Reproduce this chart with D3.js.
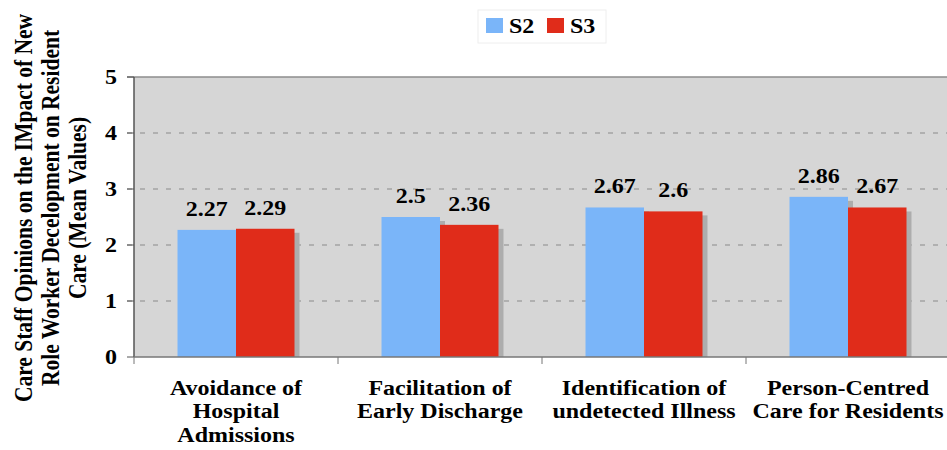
<!DOCTYPE html>
<html>
<head>
<meta charset="utf-8">
<script src="https://cdn.jsdelivr.net/npm/d3@7"></script>
<style>
  body { margin: 0; background: #fff; }
  text { font-family: "Liberation Serif", "Times New Roman", serif; font-weight: bold; fill: #000; }
</style>
</head>
<body>
<svg width="947" height="450"></svg>
<script>
var categories = [
  ["Avoidance of", "Hospital", "Admissions"],
  ["Facilitation of", "Early Discharge"],
  ["Identification of", "undetected Illness"],
  ["Person-Centred", "Care for Residents"]
];
var seriesNames = ["S2", "S3"];
var s2Values = [2.27, 2.5, 2.67, 2.86];
var s3Values = [2.29, 2.36, 2.6, 2.67];
var yTicks = [0, 1, 2, 3, 4, 5];
var titleLines = [
  "Care Staff Opinions on the IMpact of New",
  "Role Worker Decelopment on Resident",
  "Care (Mean Values)"
];

var colors = { S2: "#7ab5f9", S3: "#e02c1a" };
var stretch = 1.2; // the reference text is a little wider than tall

var svg = d3.select("svg"),
  pLeft = 134, pRight = 950, pTop = 77, pBottom = 357;

var catIdx = categories.map(function(d, i) { return i; });
var x0 = d3.scaleBand().domain(catIdx).range([pLeft, pRight]).padding(0);
var x1 = d3.scaleBand().domain(seriesNames)
  .range([(x0.bandwidth() - 117) / 2, (x0.bandwidth() + 117) / 2]);
var y = d3.scaleLinear().domain([0, 5]).range([pBottom, pTop]);

var rows = catIdx.map(function(i) {
  return [{ key: "S2", v: s2Values[i], c: i }, { key: "S3", v: s3Values[i], c: i }];
});

// plot background
svg.append("rect")
  .attr("x", pLeft).attr("y", pTop)
  .attr("width", pRight - pLeft).attr("height", pBottom - pTop)
  .attr("fill", "#d6d6d6");

svg.append("line")
  .attr("x1", pLeft - 7).attr("x2", pRight)
  .attr("y1", pTop).attr("y2", pTop)
  .attr("stroke", "#8c8c8c").attr("stroke-width", 1.5);

// dashed grid
svg.append("g").selectAll("line")
  .data(yTicks.filter(function(t) { return t > 0 && t < 5; }))
  .enter().append("line")
  .attr("x1", pLeft - 7).attr("x2", pRight)
  .attr("y1", function(d) { return y(d); }).attr("y2", function(d) { return y(d); })
  .attr("stroke", "#8a8a8a").attr("stroke-dasharray", "5,8");

// bars with drop shadow
var grp = svg.append("g").selectAll("g")
  .data(rows).enter().append("g")
  .attr("transform", function(d, i) { return "translate(" + x0(i) + ",0)"; });

grp.selectAll(".shadow")
  .data(function(d) { return d; }).enter().append("rect")
  .attr("class", "shadow")
  .attr("x", function(d) { return x1(d.key) + 5; })
  .attr("y", function(d) { return y(d.v) + 4; })
  .attr("width", x1.bandwidth())
  .attr("height", function(d) { return pBottom - y(d.v) - 4; })
  .attr("fill", "#adadad");

grp.selectAll(".bar")
  .data(function(d) { return d; }).enter().append("rect")
  .attr("class", "bar")
  .attr("x", function(d) { return x1(d.key); })
  .attr("y", function(d) { return y(d.v); })
  .attr("width", x1.bandwidth())
  .attr("height", function(d) { return pBottom - y(d.v); })
  .attr("fill", function(d) { return colors[d.key]; });

grp.selectAll(".val")
  .data(function(d) { return d; }).enter().append("text")
  .attr("class", "val")
  .attr("transform", function(d) {
    return "translate(" + (x1(d.key) + x1.bandwidth() / 2) + "," + (y(d.v) - 14) + ") scale(" + stretch + ",1)";
  })
  .attr("text-anchor", "middle")
  .style("font-size", "20px")
  .text(function(d) { return String(d.v); });

// y axis
var yAxis = svg.append("g");
yAxis.append("line")
  .attr("x1", pLeft).attr("x2", pLeft).attr("y1", pTop).attr("y2", pBottom)
  .attr("stroke", "#555").attr("stroke-width", 1.5);
yAxis.selectAll(".tick").data(yTicks).enter().append("line")
  .attr("x1", pLeft - 7).attr("x2", pLeft)
  .attr("y1", function(d) { return y(d); }).attr("y2", function(d) { return y(d); })
  .attr("stroke", "#555");
yAxis.selectAll("text").data(yTicks).enter().append("text")
  .attr("transform", function(d) { return "translate(117," + (y(d) + 7) + ") scale(" + stretch + ",1)"; })
  .attr("text-anchor", "end")
  .style("font-size", "20px")
  .text(function(d) { return d; });

// x axis
var xAxis = svg.append("g");
xAxis.append("line")
  .attr("x1", pLeft).attr("x2", pRight).attr("y1", pBottom).attr("y2", pBottom)
  .attr("stroke", "#777").attr("stroke-width", 1.5);
xAxis.selectAll(".tick").data(catIdx.concat([categories.length])).enter().append("line")
  .attr("x1", function(d) { return pLeft + d * x0.bandwidth(); })
  .attr("x2", function(d) { return pLeft + d * x0.bandwidth(); })
  .attr("y1", pBottom).attr("y2", pBottom + 7)
  .attr("stroke", "#777");

var catLab = xAxis.selectAll(".cat").data(categories).enter().append("text")
  .attr("class", "cat")
  .attr("transform", function(d, i) {
    return "translate(" + (x0(i) + x0.bandwidth() / 2) + ",395) scale(" + stretch + ",1)";
  })
  .attr("text-anchor", "middle")
  .style("font-size", "20px");
catLab.selectAll("tspan").data(function(d) { return d; }).enter().append("tspan")
  .attr("x", 0)
  .attr("dy", function(d, i) { return i ? 23.5 : 0; })
  .text(function(d) { return d; });

// y title
var title = svg.append("text")
  .attr("transform", "translate(32,208) scale(" + stretch + ",1) rotate(-90)")
  .attr("text-anchor", "middle")
  .style("font-size", "21.5px");
title.selectAll("tspan").data(titleLines).enter().append("tspan")
  .attr("x", 0)
  .attr("y", function(d, i) { return i * 22.5; })
  .text(function(d) { return d; });

// legend
var legend = svg.append("g");
legend.append("rect")
  .attr("x", 478).attr("y", 10).attr("width", 128).attr("height", 33)
  .attr("fill", "#fff").attr("stroke", "#eeeeee");
var li = legend.selectAll(".item").data(seriesNames).enter().append("g")
  .attr("transform", function(d, i) { return "translate(" + (486 + i * 61) + ",0)"; });
li.append("rect")
  .attr("x", 0).attr("y", 18).attr("width", 17).attr("height", 15)
  .attr("fill", function(d) { return colors[d]; });
li.append("text")
  .attr("transform", "translate(23,33) scale(" + stretch + ",1)")
  .style("font-size", "20px")
  .text(function(d) { return d; });
</script>
</body>
</html>
